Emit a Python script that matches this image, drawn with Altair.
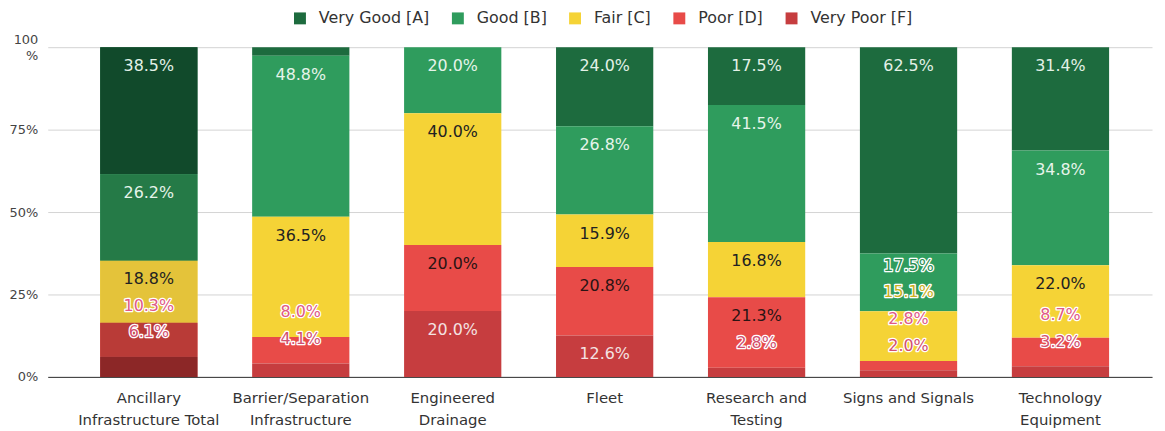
import json
import altair as alt
import pandas as pd

# ---------------- data ----------------
categories = [
    "Ancillary Infrastructure Total",
    "Barrier/Separation Infrastructure",
    "Engineered Drainage",
    "Fleet",
    "Research and Testing",
    "Signs and Signals",
    "Technology Equipment",
]
category_lines = [
    ["Ancillary", "Infrastructure Total"],
    ["Barrier/Separation", "Infrastructure"],
    ["Engineered", "Drainage"],
    ["Fleet"],
    ["Research and", "Testing"],
    ["Signs and Signals"],
    ["Technology", "Equipment"],
]
conditions = ["Very Good [A]", "Good [B]", "Fair [C]", "Poor [D]", "Very Poor [F]"]
very_good = [38.5, 2.6, 0.0, 24.0, 17.5, 62.5, 31.4]
good = [26.2, 48.8, 20.0, 26.8, 41.5, 17.5, 34.8]
fair = [18.8, 36.5, 40.0, 15.9, 16.8, 15.1, 22.0]
poor = [10.3, 8.0, 20.0, 20.8, 21.3, 2.8, 8.7]
very_poor = [6.1, 4.1, 20.0, 12.6, 2.8, 2.0, 3.2]

# ---------------- styles ----------------
bar_colors = ["#1d6b3e", "#2f9c5d", "#f5d336", "#e84b48", "#c63d3f"]
total_colors = ["#114a2b", "#257a47", "#e4c33a", "#b93b37", "#8c2727"]  # darker "Total" bar
text_colors = ["#e3f1e7", "#e6f4ea", "#222222", "#2a1414", "#f4e2e2"]
overflow_colors = ["#1d6b3e", "#2a8f55", "#c9b020", "#e05a86", "#d2506f"]
FONT = "DejaVu Sans"

series = [very_good, good, fair, poor, very_poor]

# ---------------- label layout (computed from data, percent units) ----------------
INSIDE = 5.8   # label centre below segment top
ABOVE = 7.4    # small segments: label just above top
GAP = 8.1      # minimum spacing between labels
SMALL = 8.1

seg_rows = []
lab_rows = []
for i, cat in enumerate(categories):
    vals = [s[i] for s in series]
    total = sum(vals)
    for k, cond in enumerate(conditions):
        seg_rows.append({
            "cat": cat, "cond": cond, "value": vals[k], "rank": 4 - k,
            "dcolor": total_colors[k],
        })
    cum = 0.0
    prev = None
    for k in range(4, -1, -1):  # bottom-up
        v = vals[k]
        cum += v
        top = cum / total * 100
        h = v / total * 100
        if v <= 0:
            continue
        small = h < SMALL
        desired = top + ABOVE if small else top - INSIDE
        pos = desired if prev is None else max(desired, prev + GAP)
        overflow = small or (pos - desired) > 1.0
        prev = pos
        if pos > 98:
            continue
        lab_rows.append({
            "cat": cat,
            "pos": pos / 100,
            "text": f"{v:.1f}%",
            "overflow": overflow,
            "tcolor": overflow_colors[k] if overflow else text_colors[k],
        })

seg_df = pd.DataFrame(seg_rows)
lab_df = pd.DataFrame(lab_rows)

# ---------------- axis label expressions ----------------
x_expr = "".join(
    f"datum.label == {json.dumps(c)} ? {json.dumps(l)} : " for c, l in zip(categories, category_lines)
) + "datum.label"
y_expr = "datum.value == 1 ? ['100', '%'] : datum.label"

x_scale = alt.Scale(domain=categories, paddingInner=0.36, paddingOuter=0.314, align=0.55)
y_scale = alt.Scale(domain=[0, 1], nice=False)

x_enc = alt.X(
    "cat:N",
    scale=x_scale,
    sort=categories,
    axis=alt.Axis(
        title=None, labelAngle=0, labelFontSize=15, labelColor="#333333", labelFont=FONT,
        ticks=False, domainColor="#333333", domainWidth=1, labelPadding=14,
        labelLineHeight=22, labelBaseline="top", labelLimit=400, labelExpr=x_expr,
        grid=False,
    ),
)

y_enc = alt.Y(
    "value:Q",
    stack="normalize",
    scale=y_scale,
    axis=alt.Axis(
        title=None, values=[0, 0.25, 0.5, 0.75, 1], format=".0%", labelExpr=y_expr,
        labelFontSize=13, labelColor="#444444", labelFont=FONT, domain=False, ticks=False,
        labelPadding=10, gridColor="#d4d4d4", labelLineHeight=16,
        labelOffset={"condition": {"test": "datum.value == 1", "value": -8}, "value": 0},
    ),
)

bars = alt.Chart(seg_df).mark_bar().encode(
    x=x_enc,
    y=y_enc,
    color=alt.Color(
        "cond:N",
        scale=alt.Scale(domain=conditions, range=bar_colors),
        legend=alt.Legend(
            title=None, orient="none", legendX=246, legendY=-37, direction="horizontal",
            columns=5, symbolType="square", symbolSize=144, symbolStrokeWidth=0,
            labelFontSize=16, labelColor="#333333", labelFont=FONT, columnPadding=20,
            labelOffset=11,
        ),
    ),
    order=alt.Order("rank:Q", sort="ascending"),
)

total_bar = alt.Chart(seg_df).transform_filter(
    alt.datum.cat == categories[0]
).mark_bar().encode(
    x=alt.X("cat:N", sort=categories),
    y=alt.Y("value:Q", stack="normalize"),
    color=alt.Color("dcolor:N", scale=None),
    order=alt.Order("rank:Q", sort="ascending"),
)

text_base = alt.Chart(lab_df).encode(
    x=alt.X("cat:N", sort=categories),
    y=alt.Y("pos:Q"),
    text="text:N",
)

normal_text = text_base.transform_filter("!datum.overflow").mark_text(
    fontSize=16, font=FONT, baseline="middle", align="center"
).encode(color=alt.Color("tcolor:N", scale=None))

halo_text = text_base.transform_filter("datum.overflow").mark_text(
    fontSize=16, font=FONT, baseline="middle", align="center",
    fill="white", stroke="white", strokeWidth=2.5, strokeJoin="round",
)

over_text = text_base.transform_filter("datum.overflow").mark_text(
    fontSize=16, font=FONT, baseline="middle", align="center"
).encode(color=alt.Color("tcolor:N", scale=None))

chart = alt.layer(bars, total_bar, normal_text, halo_text, over_text).properties(
    width=1112,
    height=332,
    autosize=alt.AutoSizeParams(type="none"),
    padding={"left": 40, "top": 38, "right": 5, "bottom": 50},
    background="white",
).configure_view(stroke=None)

chart.save("out.html", embed_options={"renderer": "svg", "actions": False})
